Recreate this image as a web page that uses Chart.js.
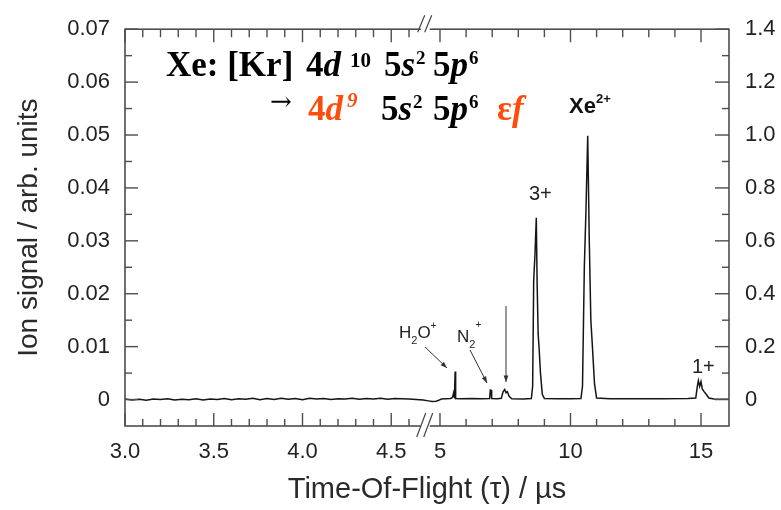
<!DOCTYPE html>
<html><head><meta charset="utf-8">
<script src="https://cdn.jsdelivr.net/npm/chart.js@4.4.1/dist/chart.umd.min.js"></script>
<style>html,body{margin:0;padding:0;background:#fff;}#wrap{width:781px;height:510px;}</style>
</head><body><div id="wrap"><canvas id="c" width="781" height="510"></canvas></div>
<script>
// ---------- data (time-of-flight in µs, signal in right-axis units) ----------
const tofLeft = [3.00,3.04,3.08,3.12,3.16,3.20,3.24,3.28,3.32,3.36,3.40,3.44,3.48,3.52,3.56,3.60,3.64,3.68,3.72,3.76,3.80,3.84,3.88,3.92,3.96,4.00,4.04,4.08,4.12,4.16,4.20,4.24,4.28,4.32,4.36,4.40,4.44,4.48,4.52,4.56,4.60,4.64,4.68];
const sigLeft = [0.002,-0.002,0.001,-0.003,0.002,0.000,0.003,-0.002,0.001,-0.001,0.003,-0.002,0.002,0.000,0.004,-0.001,0.003,0.001,0.005,-0.001,0.004,0.000,0.005,0.001,0.004,-0.001,0.005,0.002,0.004,0.000,0.003,0.002,0.005,0.001,0.004,0.002,0.005,0.001,0.004,0.003,0.002,0.000,-0.002];
const tofRight = [4.55,4.70,4.85,4.95,5.05,5.20,5.40,5.48,5.52,5.54,5.56,5.57,5.58,5.59,5.61,5.80,6.20,6.60,6.90,6.93,6.96,6.98,7.20,7.35,7.42,7.48,7.53,7.58,7.65,7.75,8.20,8.50,8.55,8.59,8.64,8.69,8.72,8.76,8.80,8.85,8.92,9.00,9.50,10.00,10.40,10.46,10.53,10.59,10.66,10.72,10.78,10.84,10.92,11.00,11.50,12.50,13.50,14.50,14.80,14.86,14.90,14.95,15.00,15.05,15.12,15.20,15.30,15.50,16.07];
const sigRight = [-0.005,-0.007,-0.006,-0.003,0.002,0.003,0.004,0.008,0.025,0.012,0.008,0.050,0.106,0.040,0.004,0.003,0.004,0.003,0.004,0.036,0.035,0.004,0.003,0.005,0.030,0.038,0.026,0.030,0.012,0.003,0.002,0.004,0.050,0.450,0.550,0.687,0.450,0.250,0.190,0.100,0.020,0.004,0.003,0.003,0.004,0.050,0.500,0.705,0.997,0.600,0.300,0.200,0.060,0.006,0.003,0.003,0.003,0.004,0.006,0.050,0.072,0.050,0.068,0.040,0.030,0.020,0.006,0.002,0.001];
const xTickTimes = [3.0,3.5,4.0,4.5,5,10,15];
const xTickSeg = ['L','L','L','L','R','R','R'];
const xTickLabels = ['3.0','3.5','4.0','4.5','5','10','15'];
const xMinorLeft = [3.1,3.2,3.3,3.4,3.6,3.7,3.8,3.9,4.1,4.2,4.3,4.4,4.6];
const xMinorRight = [6,7,8,9,11,12,13,14];
const yLeftTicks = [0,0.01,0.02,0.03,0.04,0.05,0.06,0.07];
const yLeftLabels = ['0','0.01','0.02','0.03','0.04','0.05','0.06','0.07'];
const yRightTicks = [0,0.2,0.4,0.6,0.8,1.0,1.2,1.4];
const yRightLabels = ['0','0.2','0.4','0.6','0.8','1.0','1.2','1.4'];
const yRightMinor = [0.1,0.3,0.5,0.7,0.9,1.1,1.3];

// broken axis: left part in µs directly, right part compressed
const U5 = 4.7746, KR = 0.14704, UMAX = 6.4028;
function toU(t, seg){ return seg === 'L' ? t : U5 + (t - 5) * KR; }

const pts = tofLeft.map((t,i)=>({x:toU(t,'L'), y:sigLeft[i]}))
  .concat(tofRight.map((t,i)=>({x:toU(t,'R'), y:sigRight[i]})));

const TICKFONT = {family:"'Liberation Sans',Arial,sans-serif", size:22};
const AXC = '#4d4d4d';

const framePlugin = {
  id:'frame',
  afterDatasetsDraw(chart){
    const ctx = chart.ctx, a = chart.chartArea;
    const xs = chart.scales.x, ys = chart.scales.y2;
    ctx.save();
    ctx.strokeStyle = AXC; ctx.lineWidth = 1.6;
    ctx.strokeRect(a.left, a.top, a.right - a.left, a.bottom - a.top);
    const tick = (x1,y1,x2,y2)=>{ctx.beginPath();ctx.moveTo(x1,y1);ctx.lineTo(x2,y2);ctx.stroke();};
    ctx.lineWidth = 1.4;
    const majX = xTickTimes.map((t,i)=>xs.getPixelForValue(toU(t,xTickSeg[i])));
    const minX = xMinorLeft.map(t=>xs.getPixelForValue(toU(t,'L'))).concat(xMinorRight.map(t=>xs.getPixelForValue(toU(t,'R'))));
    majX.forEach(p=>{tick(p,a.bottom,p,a.bottom-13);tick(p,a.top,p,a.top+13);});
    minX.forEach(p=>{tick(p,a.bottom,p,a.bottom-7);tick(p,a.top,p,a.top+8);});
    yRightTicks.forEach(v=>{const p=ys.getPixelForValue(v);tick(a.left,p,a.left+13,p);tick(a.right,p,a.right-14,p);});
    yRightMinor.forEach(v=>{const p=ys.getPixelForValue(v);tick(a.left,p,a.left+7,p);tick(a.right,p,a.right-7,p);});
    // axis break
    const bx = (xs.getPixelForValue(toU(4.68,'L')) + xs.getPixelForValue(toU(4.55,'R')))/2;
    ctx.fillStyle = '#fff';
    ctx.fillRect(bx-5, a.bottom-3, 9, 6);
    ctx.fillRect(bx-5, a.top-3, 9, 6);
    ctx.strokeStyle = '#444'; ctx.lineWidth = 1.2;
    [-9,-2].forEach(d=>{
      tick(bx+d, a.bottom+11, bx+d+9, a.bottom-13);
      tick(bx+d+1, a.top+3, bx+d+8, a.top-14);
    });
    ctx.restore();
  },
  afterDraw(chart){
    const ctx = chart.ctx;
    ctx.save();
    ctx.textBaseline = 'alphabetic'; ctx.textAlign = 'left';
    const SER = '"Liberation Serif","Times New Roman",serif';
    const B = 'bold 35px '+SER, BI = 'italic bold 35px '+SER, SUP = 'bold 21px '+SER, SUPS = 'bold 19px '+SER, SUPI='italic bold 21px '+SER;
    const OR = '#ff4c0c';
    const run = (x,y,list)=>{for(const r of list){ctx.font=r.f;ctx.fillStyle=r.c||'#000';ctx.fillText(r.t,x,y+(r.dy||0));x+=ctx.measureText(r.t).width+(r.g||0);}};
    // line 1
    run(166,76,[{t:'Xe: [Kr] ',f:B}]);
    run(306,76,[{t:'4',f:B},{t:'d',f:BI}]);
    run(350,76,[{t:'10',f:SUP,dy:-9}]);
    run(384,76,[{t:'5',f:B},{t:'s',f:BI,g:1},{t:'2',f:SUPS,dy:-12}]);
    run(433,76,[{t:'5',f:B},{t:'p',f:BI,g:1},{t:'6',f:SUPS,dy:-12}]);
    // line 2
    run(270,110,[{t:'\u2192',f:'26px "DejaVu Serif",serif'}]);
    run(308,120,[{t:'4',f:B,c:OR},{t:'d',f:BI,c:OR}]);
    run(347,120,[{t:'9',f:SUPI,c:OR,dy:-13}]);
    run(381,120,[{t:'5',f:B},{t:'s',f:BI,g:1},{t:'2',f:SUPS,dy:-12}]);
    run(433,120,[{t:'5',f:B},{t:'p',f:BI,g:1},{t:'6',f:SUPS,dy:-12}]);
    run(497,120,[{t:'\u03b5',f:B,c:OR},{t:'f',f:BI,c:OR}]);
    // peak labels
    const SANS = '"Liberation Sans",Arial,sans-serif';
    run(569,113,[{t:'Xe',f:'bold 22px '+SANS,c:'#111'},{t:'2+',f:'bold 13px '+SANS,c:'#111',dy:-10}]);
    run(529,200,[{t:'3+',f:'20px '+SANS,c:'#222'}]);
    run(692,373,[{t:'1+',f:'20px '+SANS,c:'#222'}]);
    run(399,338,[{t:'H',f:'17px '+SANS,c:'#222'},{t:'2',f:'11px '+SANS,c:'#222',dy:6},{t:'O',f:'17px '+SANS,c:'#222'},{t:'+',f:'10px '+SANS,c:'#222',dy:-9}]);
    run(457,342,[{t:'N',f:'17px '+SANS,c:'#222'},{t:'2',f:'11px '+SANS,c:'#222',dy:6},{t:'+',f:'10px '+SANS,c:'#222',dy:-14}]);
    // arrows
    const arrow=(x1,y1,x2,y2)=>{
      ctx.strokeStyle='#333';ctx.fillStyle='#333';ctx.lineWidth=1;
      ctx.beginPath();ctx.moveTo(x1,y1);ctx.lineTo(x2,y2);ctx.stroke();
      const an=Math.atan2(y2-y1,x2-x1),L=7,W=0.35;
      ctx.beginPath();ctx.moveTo(x2,y2);
      ctx.lineTo(x2-L*Math.cos(an-W),y2-L*Math.sin(an-W));
      ctx.lineTo(x2-L*Math.cos(an+W),y2-L*Math.sin(an+W));ctx.closePath();ctx.fill();
    };
    arrow(425,347,447,368);
    arrow(470,350,487,383);
    arrow(506,306,506,382);
    ctx.restore();
  }
};

new Chart(document.getElementById('c'),{
  type:'line',
  data:{datasets:[{data:pts, yAxisID:'y2', borderColor:'#151515', borderWidth:1.5, pointRadius:0, tension:0, fill:false}]},
  options:{
    responsive:false, animation:false,
    layout:{padding:{top:24,left:0,right:0,bottom:0}},
    plugins:{legend:{display:false}, tooltip:{enabled:false}},
    scales:{
      x:{type:'linear', min:3.0, max:UMAX, grid:{display:false, drawTicks:false}, border:{display:false},
        afterBuildTicks(s){ s.ticks = xTickTimes.map((t,i)=>({value:toU(t,xTickSeg[i])})); },
        afterFit(s){ s.height = 84; },
        ticks:{autoSkip:false, maxRotation:0, padding:13, color:'#222', font:TICKFONT,
          callback:(v,i)=>xTickLabels[i]},
        title:{display:true, text:'Time-Of-Flight (\u03c4) / \u00b5s', color:'#2a2a2a',
          font:{family:"'Liberation Sans',Arial,sans-serif", size:29}, padding:{top:0,bottom:3}}
      },
      y:{position:'left', min:-0.005, max:0.07, grid:{display:false, drawTicks:false}, border:{display:false},
        afterBuildTicks(s){ s.ticks = yLeftTicks.map(v=>({value:v})); },
        afterFit(s){ s.width = 125; },
        ticks:{autoSkip:false, padding:15, color:'#222', font:TICKFONT, callback:(v,i)=>yLeftLabels[i]},
        title:{display:true, text:'Ion signal / arb. units', color:'#2a2a2a',
          font:{family:"'Liberation Sans',Arial,sans-serif", size:28}, padding:{top:12,bottom:0}}
      },
      y2:{position:'right', min:-0.1, max:1.4, grid:{display:false, drawTicks:false}, border:{display:false},
        afterBuildTicks(s){ s.ticks = yRightTicks.map(v=>({value:v})); },
        afterFit(s){ s.width = 52; },
        ticks:{autoSkip:false, padding:16, color:'#222', font:TICKFONT, callback:(v,i)=>yRightLabels[i]}
      }
    }
  },
  plugins:[framePlugin]
});
</script></body></html>
